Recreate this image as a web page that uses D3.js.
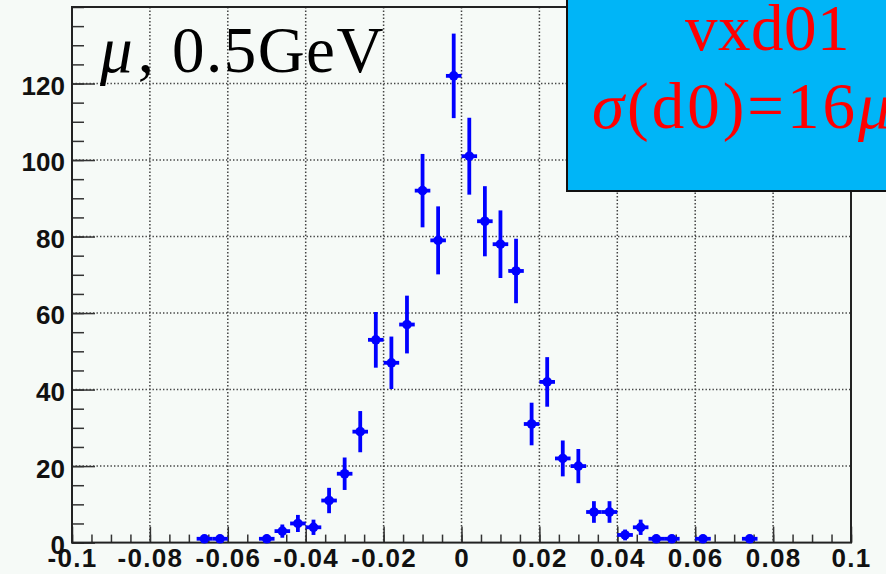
<!DOCTYPE html>
<html>
<head>
<meta charset="utf-8">
<script src="https://cdn.jsdelivr.net/npm/d3@7"></script>
<style>
  body { margin: 0; background: #f6faf7; }
  svg { display: block; }
</style>
</head>
<body>
<div id="chart"></div>
<script>
// histogram bins (centre of each 0.004 wide bin) and counts
const binCenters = [-0.066, -0.062, -0.050, -0.046, -0.042, -0.038, -0.034, -0.030, -0.026,
  -0.022, -0.018, -0.014, -0.010, -0.006, -0.002, 0.002, 0.006, 0.010, 0.014, 0.018,
  0.022, 0.026, 0.030, 0.034, 0.038, 0.042, 0.046, 0.050, 0.054, 0.062, 0.074];
const counts = [1, 1, 1, 3, 5, 4, 11, 18, 29,
  53, 47, 57, 92, 79, 122, 101, 84, 78, 71, 31,
  42, 22, 20, 8, 8, 2, 4, 1, 1, 1, 1];
const binWidth = 0.004;

const xTicks = [-0.1, -0.08, -0.06, -0.04, -0.02, 0, 0.02, 0.04, 0.06, 0.08, 0.1];
const xTickLabels = ["-0.1", "-0.08", "-0.06", "-0.04", "-0.02", "0", "0.02", "0.04", "0.06", "0.08", "0.1"];
const yTicks = [0, 20, 40, 60, 80, 100, 120];

const width = 886, height = 574;
const padL = 72, padR = 851, padT = 7, padB = 542.6;

const svg = d3.select("#chart").append("svg")
  .attr("width", width)
  .attr("height", height);

svg.append("rect")
  .attr("width", width).attr("height", height)
  .attr("fill", "#f6faf7");

const x = d3.scaleLinear().domain([-0.1, 0.1]).range([padL, padR]);
const y = d3.scaleLinear().domain([0, 140]).range([padB, padT]);

// dotted grid
const grid = svg.append("g")
  .attr("stroke", "#444")
  .attr("stroke-width", 1.5)
  .attr("stroke-dasharray", "1.4,2.1");
grid.selectAll(".gx")
  .data(xTicks.slice(1, -1))
  .enter().append("line")
  .attr("x1", d => x(d)).attr("x2", d => x(d))
  .attr("y1", padT).attr("y2", padB);
grid.selectAll(".gy")
  .data(yTicks.slice(1))
  .enter().append("line")
  .attr("x1", padL).attr("x2", padR)
  .attr("y1", d => y(d)).attr("y2", d => y(d));

// x axis, ticks pointing up into the frame
const minorX = d3.range(-20, 21).map(i => i * 0.005);
svg.append("g")
  .attr("transform", `translate(0,${padB})`)
  .call(d3.axisBottom(x).tickValues(minorX).tickSize(-8).tickFormat(""))
  .call(g => g.select(".domain").remove());

const xAxis = svg.append("g")
  .attr("transform", `translate(0,${padB})`)
  .call(d3.axisBottom(x).tickValues(xTicks).tickSize(-16)
    .tickFormat((d, i) => xTickLabels[i]));
xAxis.select(".domain").remove();
xAxis.selectAll("text")
  .attr("y", 6)
  .attr("dy", "0.72em")
  .attr("fill", "#111")
  .style("font-family", "'Liberation Sans', Arial, sans-serif")
  .style("font-weight", "bold")
  .style("font-size", "26px")
  .style("letter-spacing", "1.3px");

// y axis, ticks pointing right into the frame
const minorY = d3.range(0, 141, 5);
svg.append("g")
  .attr("transform", `translate(${padL},0)`)
  .call(d3.axisLeft(y).tickValues(minorY).tickSize(-12).tickFormat(""))
  .call(g => g.select(".domain").remove());

const yAxis = svg.append("g")
  .attr("transform", `translate(${padL},0)`)
  .call(d3.axisLeft(y).tickValues(yTicks).tickSize(-23));
yAxis.select(".domain").remove();
yAxis.selectAll("text")
  .attr("x", -7)
  .attr("dy", "0.42em")
  .attr("fill", "#111")
  .style("font-family", "'Liberation Sans', Arial, sans-serif")
  .style("font-weight", "bold")
  .style("font-size", "26px");

svg.selectAll(".tick line").attr("stroke", "#333").attr("stroke-width", 1.5);

// frame
svg.append("rect")
  .attr("x", padL).attr("y", padT)
  .attr("width", padR - padL).attr("height", padB - padT)
  .attr("fill", "none")
  .attr("stroke", "#222")
  .attr("stroke-width", 2);

// data points with error bars
const pts = svg.append("g")
  .selectAll("g")
  .data(binCenters.map((c, i) => ({ c: c, n: counts[i] })))
  .enter().append("g");

pts.append("line")
  .attr("x1", d => x(d.c)).attr("x2", d => x(d.c))
  .attr("y1", d => y(d.n - Math.sqrt(d.n)))
  .attr("y2", d => y(d.n + Math.sqrt(d.n)))
  .attr("stroke", "#0000ff")
  .attr("stroke-width", 3.8);

pts.append("line")
  .attr("x1", d => x(d.c - binWidth / 2)).attr("x2", d => x(d.c + binWidth / 2))
  .attr("y1", d => y(d.n)).attr("y2", d => y(d.n))
  .attr("stroke", "#0000ff")
  .attr("stroke-width", 3.8);

pts.append("circle")
  .attr("cx", d => x(d.c))
  .attr("cy", d => y(d.n))
  .attr("r", 4.8)
  .attr("fill", "#0000ff");

// label box top right
svg.append("rect")
  .attr("x", 567).attr("y", -5)
  .attr("width", 340).attr("height", 196)
  .attr("fill", "#00b5f7")
  .attr("stroke", "#111")
  .attr("stroke-width", 2);

const serif = "'Liberation Serif', 'Times New Roman', serif";

svg.append("text")
  .attr("x", 685).attr("y", 50)
  .attr("fill", "#ff0000")
  .style("font-family", serif)
  .style("font-size", "65px")
  .style("letter-spacing", "0.5px")
  .text("vxd01");

const t2 = svg.append("text")
  .attr("x", 592).attr("y", 128)
  .attr("fill", "#ff0000")
  .style("font-family", serif)
  .style("font-size", "65px")
  .style("letter-spacing", "3px");
t2.append("tspan").style("font-style", "italic").text("σ");
t2.append("tspan").text("(d0)=16");
t2.append("tspan").style("font-style", "italic").text("μ");

// particle label top left
const t1 = svg.append("text")
  .attr("x", 100).attr("y", 72)
  .attr("fill", "#000")
  .style("font-family", serif)
  .style("font-size", "65px");
t1.append("tspan").style("font-style", "italic").text("μ");
t1.append("tspan").attr("dx", 5).text(",");
t1.append("tspan").attr("dx", 18).style("letter-spacing", "1.5px").text("0.5GeV");
</script>
</body>
</html>
